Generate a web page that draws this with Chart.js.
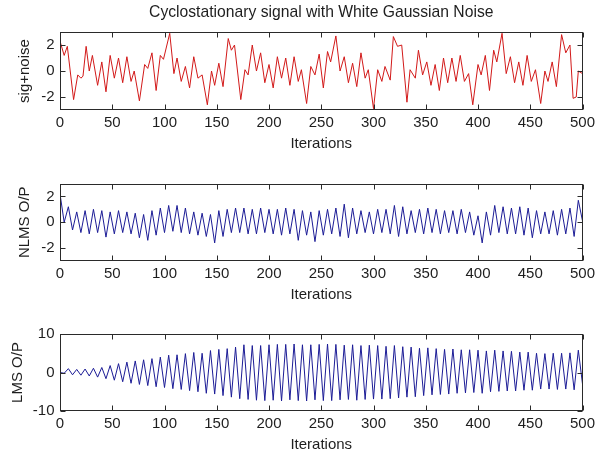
<!DOCTYPE html>
<html>
<head>
<meta charset="utf-8">
<script src="https://cdn.jsdelivr.net/npm/chart.js@4.4.1/dist/chart.umd.min.js"></script>
<style>
  html, body { margin: 0; padding: 0; background: #fff; }
  #wrap { position: relative; width: 595px; height: 456px; }
  canvas { position: absolute; left: 0; }
</style>
</head>
<body>
<div id="wrap">
  <canvas id="sig-chart" width="595" height="153" style="top:0px"></canvas>
  <canvas id="nlms-chart" width="595" height="152" style="top:153px"></canvas>
  <canvas id="lms-chart" width="595" height="151" style="top:305px"></canvas>
</div>
<script>
// --- data ---
// top panel: turning points of the noisy input
const sigIters = [
  0, 4, 7, 13, 17, 20, 22, 25, 28, 31,
  36, 40, 44, 48, 52, 56, 60, 64, 68, 71,
  76, 81, 84, 88, 92, 96, 99, 105, 109, 112,
  116, 120, 124, 128, 132, 136, 141, 145, 148, 152,
  156, 161, 164, 167, 173, 177, 180, 184, 188, 192,
  196, 200, 204, 208, 212, 216, 220, 224, 228, 231,
  236, 240, 244, 248, 252, 256, 259, 264, 268, 272,
  276, 280, 284, 288, 292, 295, 300, 304, 308, 311,
  316, 319, 323, 327, 332, 335, 340, 343, 347, 351,
  355, 359, 363, 367, 371, 375, 379, 383, 387, 391,
  395, 400, 403, 407, 411, 415, 418, 423, 427, 431,
  435, 439, 443, 447, 451, 455, 460, 464, 467, 471,
  475, 480, 484, 488, 491, 494, 496, 500
];
const sigNoise = [
  2.3, 1.2, 1.9, -2.2, -0.3, -0.55, -0.4, 1.9, 0.0, 1.2,
  -1.1, 0.7, -1.6, 1.2, -0.55, 1.0, -0.9, 1.1, -0.8, 0.0,
  -2.3, 0.5, 0.2, 1.4, -1.5, 1.2, 0.9, 2.9, -0.2, 1.0,
  -0.8, 0.35, -1.3, 1.1, -0.55, -0.3, -2.6, 0.0, -1.1, 0.6,
  -1.2, 2.5, 1.6, 2.0, -2.2, 0.1, -0.3, 2.0, 0.0, 1.4,
  -0.9, 0.5, -1.3, 1.1, -0.55, 1.0, -1.1, 1.1, -0.8, 0.1,
  -2.5, 0.35, -0.3, 1.3, -1.3, 1.5, 0.7, 2.7, 0.0, 1.1,
  -0.9, 0.6, -1.2, 1.4, -0.55, 0.1, -2.9, 0.1, -0.8, 0.35,
  -0.7, 2.65, 1.9, 2.0, -2.4, 0.1, -0.55, 1.6, -0.3, 0.7,
  -1.1, 0.5, -1.5, 1.0, -0.9, 1.0, -0.8, 1.2, -0.8, -0.2,
  -2.6, 0.5, -0.3, 1.2, -1.5, 1.6, 0.7, 2.9, -0.2, 1.1,
  -0.9, 0.7, -1.1, 1.2, -0.8, 0.1, -2.5, 0.0, -0.8, 0.7,
  -1.2, 2.8, 1.4, 2.0, -2.1, -2.0, 0.0, -0.2
];

// filter outputs: peaks/troughs every 4 iterations
const filterIters = [
  0, 4, 8, 12, 16, 20, 24, 28, 32, 36,
  40, 44, 48, 52, 56, 60, 64, 68, 72, 76,
  80, 84, 88, 92, 96, 100, 104, 108, 112, 116,
  120, 124, 128, 132, 136, 140, 144, 148, 152, 156,
  160, 164, 168, 172, 176, 180, 184, 188, 192, 196,
  200, 204, 208, 212, 216, 220, 224, 228, 232, 236,
  240, 244, 248, 252, 256, 260, 264, 268, 272, 276,
  280, 284, 288, 292, 296, 300, 304, 308, 312, 316,
  320, 324, 328, 332, 336, 340, 344, 348, 352, 356,
  360, 364, 368, 372, 376, 380, 384, 388, 392, 396,
  400, 404, 408, 412, 416, 420, 424, 428, 432, 436,
  440, 444, 448, 452, 456, 460, 464, 468, 472, 476,
  480, 484, 488, 492, 496, 500
];
const nlmsOut = [
  2.2, 0.0, 1.2, -0.6, 0.8, -0.8, 0.9, -0.9, 1.0, -0.8,
  0.9, -1.15, 0.8, -0.9, 0.9, -0.8, 0.8, -0.9, 0.7, -1.2,
  0.6, -1.4, 0.9, -1.0, 1.1, -0.8, 1.3, -0.7, 1.3, -0.8,
  1.1, -0.9, 0.8, -1.0, 0.7, -1.1, 0.6, -1.6, 0.9, -1.1,
  1.0, -0.8, 1.1, -0.8, 1.1, -0.9, 1.0, -0.9, 1.1, -0.8,
  1.0, -0.9, 1.0, -1.0, 1.1, -0.9, 1.0, -1.4, 0.9, -1.0,
  0.8, -1.5, 0.9, -1.0, 1.0, -0.9, 1.1, -1.1, 1.4, -1.2,
  1.1, -0.9, 0.9, -0.8, 0.8, -0.9, 1.0, -0.8, 1.0, -0.9,
  1.3, -1.1, 1.2, -0.9, 0.9, -0.8, 1.0, -0.9, 1.1, -0.8,
  1.0, -0.9, 0.9, -0.8, 0.9, -0.9, 1.0, -0.8, 0.8, -1.0,
  0.5, -1.6, 0.8, -1.0, 1.3, -0.8, 1.2, -0.9, 1.1, -0.9,
  1.2, -1.0, 1.1, -1.2, 0.9, -0.9, 0.8, -0.9, 0.9, -1.0,
  1.0, -0.9, 1.1, -1.1, 1.7, 0.1
];
const lmsOut = [
  0.0, -0.2, 1.0, -0.6, 0.8, -0.7, 0.9, -0.9, 1.1, -1.2,
  1.3, -1.6, 1.8, -2.0, 2.3, -2.4, 2.7, -2.8, 3.0, -3.1,
  3.3, -3.4, 3.6, -3.7, 4.0, -3.9, 4.5, -4.2, 4.6, -4.4,
  4.9, -4.7, 5.2, -5.0, 5.0, -5.4, 5.7, -5.6, 6.0, -6.0,
  6.2, -6.4, 6.6, -6.8, 7.2, -7.0, 7.0, -7.2, 7.0, -7.3,
  7.2, -7.2, 7.3, -7.4, 7.3, -7.1, 7.4, -7.3, 7.2, -7.4,
  7.2, -7.1, 7.3, -7.3, 7.4, -7.3, 7.3, -7.1, 7.1, -7.0,
  7.2, -7.2, 7.0, -7.0, 7.1, -6.9, 7.0, -6.9, 6.8, -6.8,
  7.0, -6.6, 6.7, -6.4, 6.6, -6.3, 6.3, -6.0, 6.4, -5.8,
  6.2, -5.7, 6.0, -5.6, 6.1, -5.4, 5.9, -5.3, 5.9, -5.2,
  5.8, -5.4, 5.6, -5.0, 5.8, -4.9, 5.6, -4.8, 5.5, -4.8,
  5.3, -4.6, 5.3, -4.6, 5.0, -4.3, 4.9, -4.3, 5.0, -4.4,
  5.0, -4.3, 5.1, -4.5, 5.8, -3.0
];

const smallTicks = [-2, 0, 2];
const lmsTicks = [-10, 0, 10];

const textColor = '#1e1e1e';
Chart.defaults.font.family = '"Liberation Sans", Arial, sans-serif';
Chart.defaults.color = textColor;

// matlab style box with inward ticks on all four sides
const boxPlugin = {
  id: 'matlabBox',
  afterDatasetsDraw(chart) {
    const { ctx, chartArea: a, scales: { x, y } } = chart;
    const L = Math.round(a.left) + 0.5, R = Math.round(a.right) - 0.5;
    const T = Math.round(a.top) + 0.5, B = Math.round(a.bottom) - 0.5;
    ctx.save();
    ctx.strokeStyle = '#2a2a2a';
    ctx.lineWidth = 1;
    ctx.beginPath();
    x.ticks.forEach(t => {
      const px = Math.round(x.getPixelForValue(t.value)) + 0.5;
      ctx.moveTo(px, B); ctx.lineTo(px, B - 5);
      ctx.moveTo(px, T); ctx.lineTo(px, T + 5);
    });
    y.ticks.forEach(t => {
      const py = Math.round(y.getPixelForValue(t.value)) + 0.5;
      ctx.moveTo(L, py); ctx.lineTo(L + 5, py);
      ctx.moveTo(R, py); ctx.lineTo(R - 5, py);
    });
    ctx.stroke();
    ctx.strokeRect(L, T, R - L, B - T);
    ctx.restore();
  }
};

function makePanel(id, p) {
  const canvas = document.getElementById(id);
  const H = canvas.height;
  return new Chart(canvas, {
    type: 'line',
    data: {
      datasets: [{
        data: p.xs.map((v, i) => ({ x: v, y: p.ys[i] })),
        borderColor: p.color,
        borderWidth: 1,
        borderJoinStyle: 'round',
        pointRadius: 0,
        tension: 0
      }]
    },
    options: {
      responsive: false,
      animation: false,
      devicePixelRatio: 1,
      events: [],
      layout: { padding: { left: 0, right: 12.5, top: p.top, bottom: 0 } },
      plugins: {
        legend: { display: false },
        tooltip: { enabled: false },
        title: p.title ? {
          display: true,
          text: p.title,
          fullSize: false,
          color: textColor,
          font: { size: 15.7, weight: 'normal' },
          padding: { top: 3.3, bottom: 9.9 }
        } : { display: false }
      },
      scales: {
        x: {
          type: 'linear',
          min: 0,
          max: 500,
          grid: { display: false, drawTicks: false },
          border: { display: false },
          ticks: {
            stepSize: 50,
            autoSkip: false,
            maxRotation: 0,
            padding: 4.3,
            font: { size: 15 },
            color: textColor,
            callback: v => String(v)
          },
          title: {
            display: true,
            text: 'Iterations',
            color: textColor,
            font: { size: 15 },
            padding: { top: 0, bottom: H - p.bottom - 33.7 - 9 }
          },
          afterFit: s => { s.height = H - p.bottom; s.paddingLeft = 0; s.paddingRight = 0; }
        },
        y: {
          min: p.yMin,
          max: p.yMax,
          grid: { display: false, drawTicks: false },
          border: { display: false },
          afterBuildTicks: s => { s.ticks = p.yTicks.map(v => ({ value: v })); },
          ticks: {
            padding: 5.5,
            font: { size: 15 },
            color: textColor,
            callback: v => String(v)
          },
          title: {
            display: true,
            text: p.yLabel,
            color: textColor,
            font: { size: 15 },
            padding: { top: p.yTitlePad, bottom: 0 }
          },
          afterFit: s => { s.width = 60; s.paddingTop = 0; s.paddingBottom = 0; }
        }
      }
    },
    plugins: [boxPlugin]
  });
}

makePanel('sig-chart', {
  xs: sigIters, ys: sigNoise, color: 'rgb(210,25,25)',
  title: 'Cyclostationary signal with White Gaussian Noise',
  top: 0, bottom: 110, yMin: -3, yMax: 3, yTicks: smallTicks,
  yLabel: 'sig+noise', yTitlePad: 16
});

makePanel('nlms-chart', {
  xs: filterIters, ys: nlmsOut, color: 'rgb(28,28,150)',
  top: 30.5, bottom: 108, yMin: -3, yMax: 3, yTicks: smallTicks,
  yLabel: 'NLMS O/P', yTitlePad: 16
});

makePanel('lms-chart', {
  xs: filterIters, ys: lmsOut, color: 'rgb(28,28,150)',
  top: 29, bottom: 106, yMin: -10, yMax: 10, yTicks: lmsTicks,
  yLabel: 'LMS O/P', yTitlePad: 9
});
</script>
</body>
</html>
